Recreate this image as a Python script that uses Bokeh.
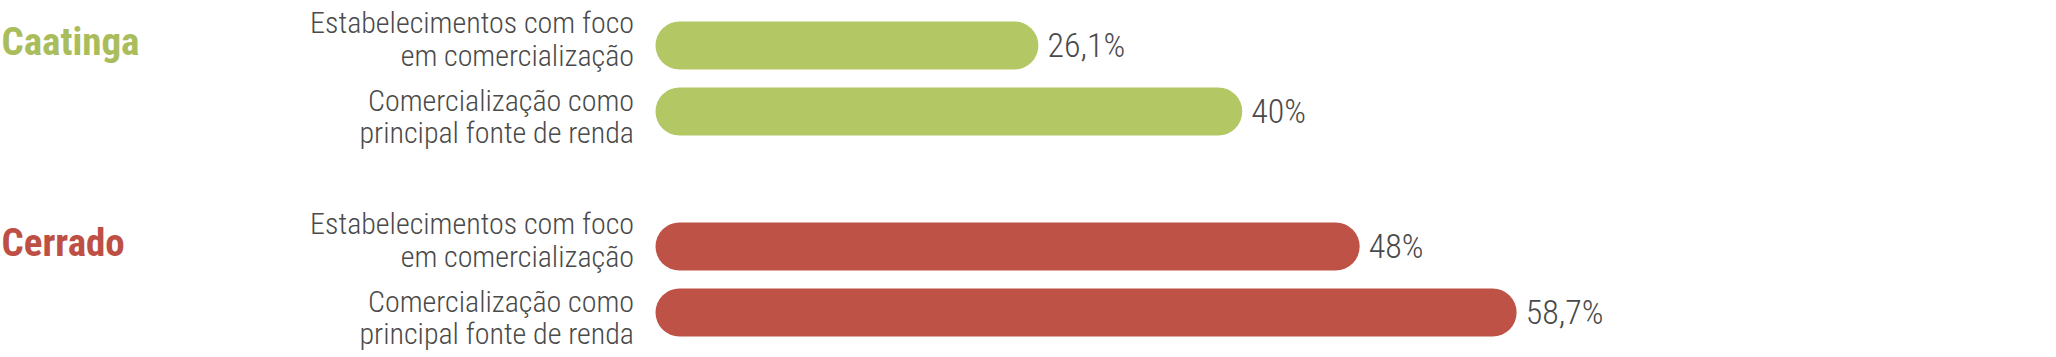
from bokeh.plotting import figure
from bokeh.models import ColumnDataSource, Range1d
from bokeh.core.properties import value
from bokeh.embed import file_html
from bokeh.resources import INLINE

# ---- data ----
groups = ["Caatinga", "Cerrado"]
categories = [
    "Estabelecimentos com foco\nem comercialização",
    "Comercialização como\nprincipal fonte de renda",
]
caatinga_values = [26.1, 40.0]
cerrado_values = [48.0, 58.7]
value_labels_caatinga = ["26,1%", "40%"]
value_labels_cerrado = ["48%", "58,7%"]
group_colors = ["#B3C764", "#BF5247"]
title_colors = ["#AABD5C", "#BD4F45"]

# ---- layout constants ----
W, H = 2056, 357
PX_PER_UNIT = 14.67      # horizontal scale (px per %)
X0_PX = 655              # canvas px of value 0
ROW_PX = 66              # px per row
FIRST_ROW_PX = 45        # canvas px of first bar centre
GROUP_STEP = 201 / ROW_PX
BAR_PX = 48
TEXT = "#4a4a4a"
FONT = "Roboto Condensed Light"
TITLE_FONT = "Roboto Condensed"

p = figure(width=W, height=H, output_backend="svg", toolbar_location=None,
           x_range=Range1d(-X0_PX / PX_PER_UNIT, (W - X0_PX) / PX_PER_UNIT),
           y_range=Range1d((H - FIRST_ROW_PX) / ROW_PX, -FIRST_ROW_PX / ROW_PX),
           min_border=0, outline_line_color=None, background_fill_color="white",
           border_fill_color="white")
p.axis.visible = False
p.grid.visible = False

r = (BAR_PX / 2) / PX_PER_UNIT
all_values = [caatinga_values, cerrado_values]
all_vlabels = [value_labels_caatinga, value_labels_cerrado]

for g, (gname, vals, vlabs) in enumerate(zip(groups, all_values, all_vlabels)):
    ys = [g * GROUP_STEP + i for i in range(len(vals))]
    src = ColumnDataSource(dict(
        y=ys, v=vals, x0=[r] * len(vals), x1=[v - r for v in vals],
        lab=vlabs,
        l1=[c.split("\n")[0] for c in categories],
        l2=[c.split("\n")[1] for c in categories],
        zero=[0] * len(vals),
        off1=[-22.7, -11.5], off2=[10.0, 21.2],
    ))
    p.segment(x0="x0", y0="y", x1="x1", y1="y", source=src,
              line_width=BAR_PX, line_cap="round", line_color=group_colors[g])
    # value labels
    p.text(x="v", y="y", text="lab", source=src, x_offset=9, y_offset=-0.5,
           text_font=value(FONT), text_font_size="34px", text_color=TEXT,
           text_baseline="alphabetic", text_align="left")
    # category labels (two lines)
    p.text(x="zero", y="y", text="l1", source=src, x_offset=-21.5, y_offset="off1",
           text_font=value(FONT), text_font_size="30px", text_color=TEXT,
           text_baseline="alphabetic", text_align="right")
    p.text(x="zero", y="y", text="l2", source=src, x_offset=-21.5, y_offset="off2",
           text_font=value(FONT), text_font_size="30px", text_color=TEXT,
           text_baseline="alphabetic", text_align="right")
    # group title
    p.text(x=[p.x_range.start], y=[ys[0]], text=[gname], x_offset=1, y_offset=-3.5,
           text_font=value(TITLE_FONT), text_font_size="39px", text_font_style="bold",
           text_color=title_colors[g], text_baseline="alphabetic", text_align="left")

open("out.html", "w").write(file_html(p, INLINE))
